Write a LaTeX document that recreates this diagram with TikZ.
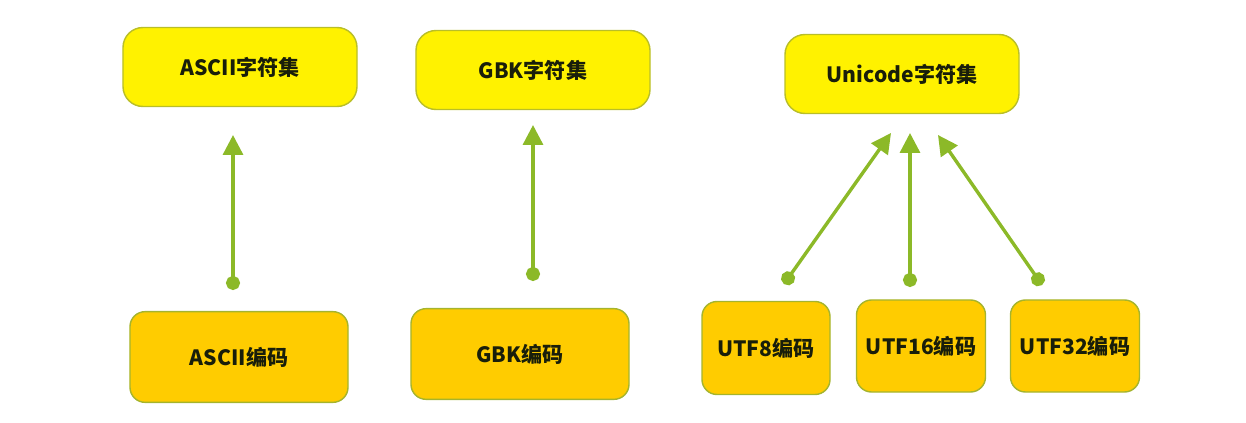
\documentclass[tikz,border=0pt]{standalone}
\usepackage{fontspec}
\setmainfont{Noto Sans CJK SC}
\usetikzlibrary{arrows.meta}
\definecolor{setfill}{RGB}{255,242,0}
\definecolor{setline}{RGB}{185,190,40}
\definecolor{encfill}{RGB}{255,204,0}
\definecolor{encline}{RGB}{165,180,45}
\definecolor{linkgreen}{RGB}{140,185,40}
\definecolor{textdark}{RGB}{25,30,10}
\tikzset{
  setbox/.style={draw=setline, line width=1.2pt, fill=setfill, rounded corners=0.6cm,
    minimum width=7.02cm, minimum height=2.37cm, text=textdark,
    font=\fontsize{18}{20}\selectfont\bfseries},
  encbox/.style={draw=encline, line width=1.2pt, fill=encfill, rounded corners=0.45cm,
    minimum width=6.54cm, minimum height=2.72cm, text=textdark,
    font=\fontsize{18}{20}\selectfont\bfseries},
  link/.style={draw=linkgreen, line width=2.9pt,
    {Circle[length=12pt]}-{Triangle[length=17pt,width=17pt]}}
}
\begin{document}
\begin{tikzpicture}[x=0.03cm, y=-0.03cm]
      \useasboundingbox (0, 0) rectangle (1246, 423);
      % character sets
      \node [setbox] (asciiset) at (240, 67) {ASCII字符集};
      \node [setbox] (gbkset) at (533, 70) {GBK字符集};
      \node [setbox] (uniset) at (902, 74) {Unicode字符集};
      % encodings
      \node [encbox] (asciienc) at (239, 357) {ASCII编码};
      \node [encbox] (gbkenc) at (520, 354) {GBK编码};
      \node [encbox, minimum width=3.84cm, minimum height=2.79cm] (utf8) at (766, 348) {UTF8编码};
      \node [encbox, minimum width=3.87cm, minimum height=2.76cm] (utf16) at (921, 346) {UTF16编码};
      \node [encbox, minimum width=3.87cm, minimum height=2.76cm] (utf32) at (1075, 346) {UTF32编码};
      % connectors
      \coordinate (asciidot) at (233, 290);
      \coordinate (asciitip) at (233, 135);
      \coordinate (gbkdot) at (533, 281);
      \coordinate (gbktip) at (533, 125);
      \coordinate (u8dot) at (784, 284);
      \coordinate (u8tip) at (891, 133);
      \coordinate (u16dot) at (910, 287);
      \coordinate (u16tip) at (910, 133);
      \coordinate (u32dot) at (1042, 285);
      \coordinate (u32tip) at (938, 135);
      \draw [link] (asciidot) -- (asciitip);
      \draw [link] (gbkdot) -- (gbktip);
      \draw [link] (u8dot) -- (u8tip);
      \draw [link] (u16dot) -- (u16tip);
      \draw [link] (u32dot) -- (u32tip);
    \end{tikzpicture}
\end{document}
